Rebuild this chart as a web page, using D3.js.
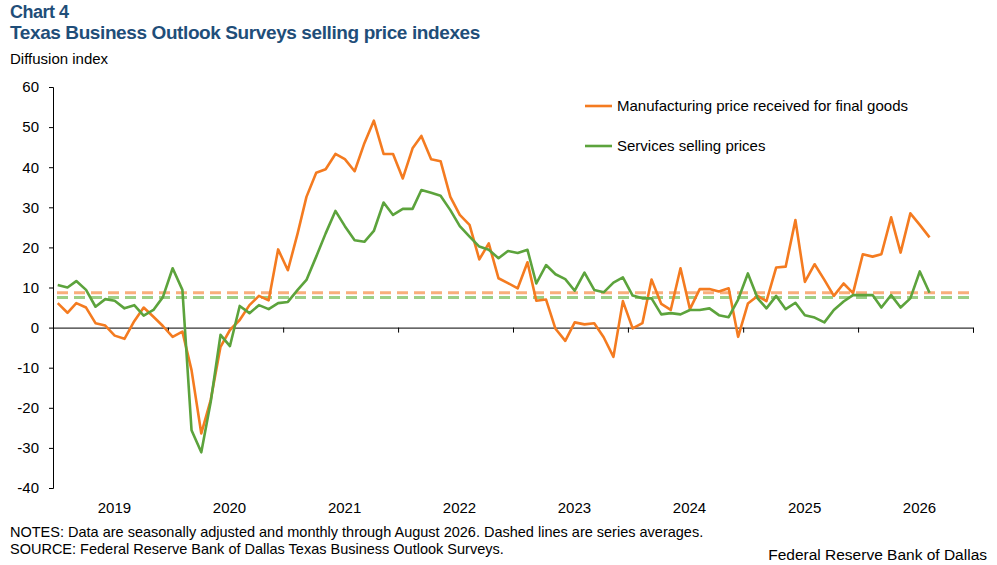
<!DOCTYPE html>
<html><head><meta charset="utf-8">
<script src="https://cdn.jsdelivr.net/npm/d3@7/dist/d3.min.js"></script>
<style>body{margin:0;background:#fff;font-family:Arial,"Liberation Sans",sans-serif}</style>
</head><body>
<script>
// monthly, Jan 2019 .. Aug 2026
var manufacturing = [6.1,3.7,6.1,5.0,1.1,0.5,-2.0,-2.8,1.6,5.0,2.7,0.4,
  -2.3,-1.0,-10.6,-26.4,-18,-4.8,-0.6,1.9,5.6,7.9,6.8,19.5,
  14.3,23.5,32.6,38.6,39.5,43.3,42,39,46,51.6,43.3,43.3,
  37.2,44.7,47.8,42,41.5,32.6,28.1,25.6,17.0,21.0,12.3,11.1,
  9.8,16.3,6.7,7.0,-0.3,-3.3,1.3,0.8,1.1,-2.4,-7.3,6.6,
  -0.2,1.1,12.0,5.9,4.4,14.8,4.6,9.6,9.6,9.0,9.8,-2.3,
  6.0,7.9,6.6,15.0,15.2,26.8,11.4,15.8,11.9,7.9,11.0,8.6,
  18.3,17.7,18.3,27.5,18.7,28.5,25.6,22.5];
var services = [10.6,10.0,11.6,9.4,5.2,7.1,6.7,4.8,5.6,3.0,4.4,7.6,
  14.8,9.4,-25.6,-31.1,-18.5,-1.8,-4.6,5.4,3.6,5.6,4.6,6.1,
  6.4,9.4,11.9,17.7,23.5,29.1,25.3,21.8,21.4,24.1,31.2,28.1,
  29.6,29.6,34.3,33.6,32.9,29.3,25.3,22.7,20.2,19.4,17.3,19.1,
  18.6,19.4,11.0,15.6,13.3,12.1,9.2,13.7,9.4,8.8,11.2,12.5,
  8.0,7.3,7.3,3.3,3.6,3.3,4.4,4.4,4.8,3.1,2.6,7.0,
  13.5,7.3,4.8,7.9,4.6,6.2,3.1,2.5,1.3,4.4,6.5,8.1,
  8.1,8.1,5.0,8.1,5.0,7.3,14.0,8.7];
var averages = [8.7, 7.5];
var years = [2019,2020,2021,2022,2023,2024,2025,2026];
var yTicks = d3.range(-40, 61, 10);
var seriesNames = ["Manufacturing price received for final goods", "Services selling prices"];
var colors = ["#F47B20", "#5CA33C"];
var avgColors = ["#F9AE7C", "#9CCF86"];

var W = 997, H = 565;
var svg = d3.select("body").append("svg").attr("width", W).attr("height", H);
var blue = "#1F4E79";

svg.append("text").attr("x", 10).attr("y", 18).attr("fill", blue)
  .attr("font-size", 18).attr("font-weight", "bold").attr("letter-spacing", -0.5).text("Chart 4");
svg.append("text").attr("x", 10).attr("y", 39).attr("fill", blue)
  .attr("font-size", 19).attr("font-weight", "bold").attr("letter-spacing", -0.4)
  .text("Texas Business Outlook Surveys selling price indexes");
svg.append("text").attr("x", 10).attr("y", 64).attr("font-size", 15).text("Diffusion index");

var x = d3.scaleTime().domain([new Date(2019, 0, 1), new Date(2027, 0, 1)]).range([53, 973]);
var y = d3.scaleLinear().domain([-40, 60]).range([488, 87]);
var mid = function(i) { return new Date(2019, i, 16); };

// y axis
svg.append("g").attr("transform", "translate(53,0)")
  .call(d3.axisLeft(y).tickValues(yTicks).tickSize(4).tickFormat(function(d) { return String(d); }))
  .call(function(g) {
    g.selectAll("text").attr("font-size", 15).attr("x", -14).attr("font-family", "Arial,Liberation Sans,sans-serif");
    g.selectAll("path,line").attr("stroke", "#000");
  });

// x axis at zero
svg.append("g").attr("transform", "translate(0," + y(0) + ")")
  .call(d3.axisBottom(x).ticks(d3.timeYear.every(1)).tickSize(5).tickFormat(""))
  .call(function(g) { g.selectAll("path,line").attr("stroke", "#000"); });

svg.selectAll(".yr").data(years).enter().append("text")
  .attr("x", function(d) { return (x(new Date(d, 0, 1)) + x(new Date(d + 1, 0, 1))) / 2 + 4; })
  .attr("y", 513).attr("text-anchor", "middle").attr("font-size", 15).text(function(d) { return d; });

// averages
averages.forEach(function(a, k) {
  svg.append("line").attr("x1", 57).attr("x2", 973).attr("y1", y(a)).attr("y2", y(a))
    .attr("stroke", avgColors[k]).attr("stroke-width", 3).attr("stroke-dasharray", "11,6");
});

var line = d3.line().x(function(d, i) { return x(mid(i)); }).y(function(d) { return y(d); });
[manufacturing, services].forEach(function(s, k) {
  svg.append("path").datum(s).attr("d", line).attr("fill", "none")
    .attr("stroke", colors[k]).attr("stroke-width", 2.6).attr("stroke-linejoin", "round");
});

// legend
seriesNames.forEach(function(n, k) {
  var ly = 106 + k * 40;
  svg.append("line").attr("x1", 585).attr("x2", 612).attr("y1", ly).attr("y2", ly)
    .attr("stroke", colors[k]).attr("stroke-width", 2.6);
  svg.append("text").attr("x", 617).attr("y", ly + 5).attr("font-size", 15).text(n);
});

svg.append("text").attr("x", 10).attr("y", 537).attr("font-size", 14.5)
  .text("NOTES: Data are seasonally adjusted and monthly through August 2026. Dashed lines are series averages.");
svg.append("text").attr("x", 10).attr("y", 554).attr("font-size", 14.5)
  .text("SOURCE: Federal Reserve Bank of Dallas Texas Business Outlook Surveys.");
svg.append("text").attr("x", 987).attr("y", 560).attr("font-size", 15.5).attr("text-anchor", "end")
  .text("Federal Reserve Bank of Dallas");
</script>
</body></html>
